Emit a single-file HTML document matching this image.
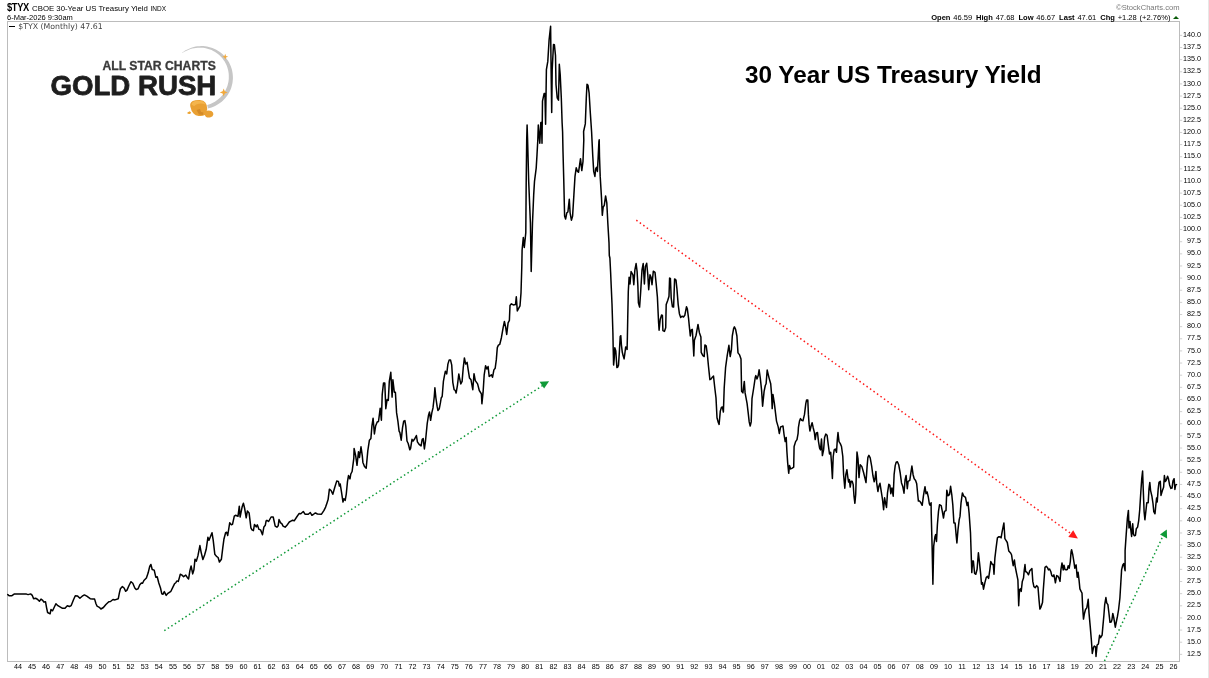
<!DOCTYPE html>
<html><head><meta charset="utf-8"><title>30 Year US Treasury Yield</title>
<style>
html,body{margin:0;padding:0;background:#fff;}
body{width:1209px;height:678px;overflow:hidden;position:relative;-webkit-font-smoothing:antialiased;font-family:"Liberation Sans",sans-serif;}
svg{position:absolute;left:0;top:0;}
#wrap{position:absolute;left:0;top:0;width:1209px;height:678px;will-change:transform;}
.ax text{font-family:"Liberation Sans",sans-serif;font-size:7.2px;fill:#000;}
.hd{position:absolute;white-space:nowrap;color:#000;line-height:1;}
</style></head><body><div id="wrap">
<svg width="1209" height="678" viewBox="0 0 1209 678">
<rect x="1208" y="0" width="1" height="678" fill="#e7e7e6"/>
<rect x="7.5" y="21.5" width="1172.0" height="640.0" fill="#fff" stroke="#bcbcbc" stroke-width="1"/>
<path d="M1180,35.36h2.2 M1180,47.50h2.2 M1180,59.63h2.2 M1180,71.77h2.2 M1180,83.91h2.2 M1180,96.05h2.2 M1180,108.18h2.2 M1180,120.32h2.2 M1180,132.46h2.2 M1180,144.59h2.2 M1180,156.73h2.2 M1180,168.87h2.2 M1180,181.00h2.2 M1180,193.14h2.2 M1180,205.28h2.2 M1180,217.42h2.2 M1180,229.55h2.2 M1180,241.69h2.2 M1180,253.83h2.2 M1180,265.96h2.2 M1180,278.10h2.2 M1180,290.24h2.2 M1180,302.37h2.2 M1180,314.51h2.2 M1180,326.65h2.2 M1180,338.79h2.2 M1180,350.92h2.2 M1180,363.06h2.2 M1180,375.20h2.2 M1180,387.33h2.2 M1180,399.47h2.2 M1180,411.61h2.2 M1180,423.74h2.2 M1180,435.88h2.2 M1180,448.02h2.2 M1180,460.16h2.2 M1180,472.29h2.2 M1180,484.43h2.2 M1180,496.57h2.2 M1180,508.70h2.2 M1180,520.84h2.2 M1180,532.98h2.2 M1180,545.11h2.2 M1180,557.25h2.2 M1180,569.39h2.2 M1180,581.52h2.2 M1180,593.66h2.2 M1180,605.80h2.2 M1180,617.94h2.2 M1180,630.07h2.2 M1180,642.21h2.2 M1180,654.35h2.2" stroke="#cfcfcf" stroke-width="1" fill="none"/>
<g class="ax"><text x="1201" y="37.00" text-anchor="end">140.0</text><text x="1201" y="49.14" text-anchor="end">137.5</text><text x="1201" y="61.27" text-anchor="end">135.0</text><text x="1201" y="73.41" text-anchor="end">132.5</text><text x="1201" y="85.55" text-anchor="end">130.0</text><text x="1201" y="97.69" text-anchor="end">127.5</text><text x="1201" y="109.82" text-anchor="end">125.0</text><text x="1201" y="121.96" text-anchor="end">122.5</text><text x="1201" y="134.10" text-anchor="end">120.0</text><text x="1201" y="146.23" text-anchor="end">117.5</text><text x="1201" y="158.37" text-anchor="end">115.0</text><text x="1201" y="170.51" text-anchor="end">112.5</text><text x="1201" y="182.64" text-anchor="end">110.0</text><text x="1201" y="194.78" text-anchor="end">107.5</text><text x="1201" y="206.92" text-anchor="end">105.0</text><text x="1201" y="219.06" text-anchor="end">102.5</text><text x="1201" y="231.19" text-anchor="end">100.0</text><text x="1201" y="243.33" text-anchor="end">97.5</text><text x="1201" y="255.47" text-anchor="end">95.0</text><text x="1201" y="267.60" text-anchor="end">92.5</text><text x="1201" y="279.74" text-anchor="end">90.0</text><text x="1201" y="291.88" text-anchor="end">87.5</text><text x="1201" y="304.01" text-anchor="end">85.0</text><text x="1201" y="316.15" text-anchor="end">82.5</text><text x="1201" y="328.29" text-anchor="end">80.0</text><text x="1201" y="340.43" text-anchor="end">77.5</text><text x="1201" y="352.56" text-anchor="end">75.0</text><text x="1201" y="364.70" text-anchor="end">72.5</text><text x="1201" y="376.84" text-anchor="end">70.0</text><text x="1201" y="388.97" text-anchor="end">67.5</text><text x="1201" y="401.11" text-anchor="end">65.0</text><text x="1201" y="413.25" text-anchor="end">62.5</text><text x="1201" y="425.38" text-anchor="end">60.0</text><text x="1201" y="437.52" text-anchor="end">57.5</text><text x="1201" y="449.66" text-anchor="end">55.0</text><text x="1201" y="461.80" text-anchor="end">52.5</text><text x="1201" y="473.93" text-anchor="end">50.0</text><text x="1201" y="486.07" text-anchor="end">47.5</text><text x="1201" y="498.21" text-anchor="end">45.0</text><text x="1201" y="510.34" text-anchor="end">42.5</text><text x="1201" y="522.48" text-anchor="end">40.0</text><text x="1201" y="534.62" text-anchor="end">37.5</text><text x="1201" y="546.75" text-anchor="end">35.0</text><text x="1201" y="558.89" text-anchor="end">32.5</text><text x="1201" y="571.03" text-anchor="end">30.0</text><text x="1201" y="583.16" text-anchor="end">27.5</text><text x="1201" y="595.30" text-anchor="end">25.0</text><text x="1201" y="607.44" text-anchor="end">22.5</text><text x="1201" y="619.58" text-anchor="end">20.0</text><text x="1201" y="631.71" text-anchor="end">17.5</text><text x="1201" y="643.85" text-anchor="end">15.0</text><text x="1201" y="655.99" text-anchor="end">12.5</text></g>
<g class="ax"><text x="17.9" y="668.9" text-anchor="middle">44</text><text x="32.0" y="668.9" text-anchor="middle">45</text><text x="46.1" y="668.9" text-anchor="middle">46</text><text x="60.2" y="668.9" text-anchor="middle">47</text><text x="74.3" y="668.9" text-anchor="middle">48</text><text x="88.4" y="668.9" text-anchor="middle">49</text><text x="102.5" y="668.9" text-anchor="middle">50</text><text x="116.5" y="668.9" text-anchor="middle">51</text><text x="130.6" y="668.9" text-anchor="middle">52</text><text x="144.7" y="668.9" text-anchor="middle">53</text><text x="158.8" y="668.9" text-anchor="middle">54</text><text x="172.9" y="668.9" text-anchor="middle">55</text><text x="187.0" y="668.9" text-anchor="middle">56</text><text x="201.1" y="668.9" text-anchor="middle">57</text><text x="215.2" y="668.9" text-anchor="middle">58</text><text x="229.3" y="668.9" text-anchor="middle">59</text><text x="243.4" y="668.9" text-anchor="middle">60</text><text x="257.5" y="668.9" text-anchor="middle">61</text><text x="271.6" y="668.9" text-anchor="middle">62</text><text x="285.6" y="668.9" text-anchor="middle">63</text><text x="299.7" y="668.9" text-anchor="middle">64</text><text x="313.8" y="668.9" text-anchor="middle">65</text><text x="327.9" y="668.9" text-anchor="middle">66</text><text x="342.0" y="668.9" text-anchor="middle">67</text><text x="356.1" y="668.9" text-anchor="middle">68</text><text x="370.2" y="668.9" text-anchor="middle">69</text><text x="384.3" y="668.9" text-anchor="middle">70</text><text x="398.4" y="668.9" text-anchor="middle">71</text><text x="412.5" y="668.9" text-anchor="middle">72</text><text x="426.6" y="668.9" text-anchor="middle">73</text><text x="440.7" y="668.9" text-anchor="middle">74</text><text x="454.8" y="668.9" text-anchor="middle">75</text><text x="468.8" y="668.9" text-anchor="middle">76</text><text x="482.9" y="668.9" text-anchor="middle">77</text><text x="497.0" y="668.9" text-anchor="middle">78</text><text x="511.1" y="668.9" text-anchor="middle">79</text><text x="525.2" y="668.9" text-anchor="middle">80</text><text x="539.3" y="668.9" text-anchor="middle">81</text><text x="553.4" y="668.9" text-anchor="middle">82</text><text x="567.5" y="668.9" text-anchor="middle">83</text><text x="581.6" y="668.9" text-anchor="middle">84</text><text x="595.7" y="668.9" text-anchor="middle">85</text><text x="609.8" y="668.9" text-anchor="middle">86</text><text x="623.9" y="668.9" text-anchor="middle">87</text><text x="637.9" y="668.9" text-anchor="middle">88</text><text x="652.0" y="668.9" text-anchor="middle">89</text><text x="666.1" y="668.9" text-anchor="middle">90</text><text x="680.2" y="668.9" text-anchor="middle">91</text><text x="694.3" y="668.9" text-anchor="middle">92</text><text x="708.4" y="668.9" text-anchor="middle">93</text><text x="722.5" y="668.9" text-anchor="middle">94</text><text x="736.6" y="668.9" text-anchor="middle">95</text><text x="750.7" y="668.9" text-anchor="middle">96</text><text x="764.8" y="668.9" text-anchor="middle">97</text><text x="778.9" y="668.9" text-anchor="middle">98</text><text x="793.0" y="668.9" text-anchor="middle">99</text><text x="807.1" y="668.9" text-anchor="middle">00</text><text x="821.1" y="668.9" text-anchor="middle">01</text><text x="835.2" y="668.9" text-anchor="middle">02</text><text x="849.3" y="668.9" text-anchor="middle">03</text><text x="863.4" y="668.9" text-anchor="middle">04</text><text x="877.5" y="668.9" text-anchor="middle">05</text><text x="891.6" y="668.9" text-anchor="middle">06</text><text x="905.7" y="668.9" text-anchor="middle">07</text><text x="919.8" y="668.9" text-anchor="middle">08</text><text x="933.9" y="668.9" text-anchor="middle">09</text><text x="948.0" y="668.9" text-anchor="middle">10</text><text x="962.1" y="668.9" text-anchor="middle">11</text><text x="976.2" y="668.9" text-anchor="middle">12</text><text x="990.2" y="668.9" text-anchor="middle">13</text><text x="1004.3" y="668.9" text-anchor="middle">14</text><text x="1018.4" y="668.9" text-anchor="middle">15</text><text x="1032.5" y="668.9" text-anchor="middle">16</text><text x="1046.6" y="668.9" text-anchor="middle">17</text><text x="1060.7" y="668.9" text-anchor="middle">18</text><text x="1074.8" y="668.9" text-anchor="middle">19</text><text x="1088.9" y="668.9" text-anchor="middle">20</text><text x="1103.0" y="668.9" text-anchor="middle">21</text><text x="1117.1" y="668.9" text-anchor="middle">22</text><text x="1131.2" y="668.9" text-anchor="middle">23</text><text x="1145.3" y="668.9" text-anchor="middle">24</text><text x="1159.4" y="668.9" text-anchor="middle">25</text><text x="1173.4" y="668.9" text-anchor="middle">26</text></g>
<!-- annotations -->
<g fill="none" stroke-width="1.5" stroke-linecap="butt">
<path d="M164.3,630.7 L543,385.3" stroke="#0f9a38" stroke-dasharray="1.5 2.7"/>
<path d="M636.3,220.2 L1071.5,534.0" stroke="#ff1a1a" stroke-dasharray="1.5 2.8"/>
<path d="M1104.5,661 L1162.5,537" stroke="#0f9a38" stroke-dasharray="1.5 2.7"/>
</g>
<path d="M549.1,381.3 L539.6,381.7 L544.1,388.5Z" fill="#0f9a38"/>
<path d="M1077.9,538.4 L1073.2,530.3 L1068.3,537.1Z" fill="#ff1a1a"/>
<path d="M1166.8,529.5 L1160,534.4 L1167.1,538.4Z" fill="#0f9a38"/>
<!-- data line -->
<path d="M7.8,594.6 L9.1,595.8 L11.6,595.8 L14.1,594.1 L26.5,594.1 L28.1,594.6 L30.6,593.9 L32.3,595.4 L33.6,598.7 L35.6,598.2 L37.7,599.5 L39.4,601.2 L41.0,599.1 L42.7,600.4 L43.8,602.0 L45.5,601.7 L46.6,607.8 L47.6,612.5 L50.1,613.8 L51.0,609.5 L52.6,610.8 L55.9,603.7 L57.9,605.7 L62.5,608.3 L65.0,608.2 L67.3,605.8 L69.5,606.5 L71.1,605.7 L73.6,599.5 L75.3,595.8 L77.4,595.9 L79.9,598.2 L82.2,596.2 L84.4,594.9 L86.8,596.2 L90.2,598.7 L92.6,599.1 L94.6,599.1 L96.0,603.7 L97.1,606.2 L99.3,607.3 L100.9,609.0 L103.4,607.5 L105.9,604.5 L108.8,601.7 L110.5,601.5 L113.0,599.5 L115.0,599.9 L118.3,598.7 L119.4,592.9 L120.4,588.8 L122.4,586.6 L124.1,588.0 L125.7,591.3 L127.0,590.1 L129.0,585.5 L131.0,581.7 L132.8,583.3 L134.8,588.0 L136.2,589.6 L138.1,588.8 L139.8,584.7 L141.4,583.0 L142.6,583.3 L143.9,580.5 L146.4,578.0 L148.1,573.1 L149.7,566.5 L150.9,564.5 L152.2,569.5 L154.2,570.1 L155.8,577.2 L157.2,576.7 L158.8,583.0 L160.5,588.0 L161.8,593.8 L162.9,594.3 L164.3,591.6 L166.2,595.4 L167.9,593.3 L170.9,591.3 L172.9,587.1 L174.5,583.8 L175.8,582.7 L177.0,580.9 L178.3,581.4 L179.5,577.2 L180.3,574.2 L182.0,575.1 L183.6,576.7 L185.8,575.1 L187.4,577.7 L188.6,578.9 L189.9,570.6 L191.1,566.0 L192.7,573.9 L193.9,569.8 L195.0,559.2 L196.3,561.2 L197.9,555.9 L199.9,545.6 L201.2,552.6 L202.9,559.5 L204.6,555.0 L206.2,549.3 L207.9,537.3 L209.0,540.2 L210.7,536.0 L212.0,532.7 L213.2,540.2 L214.8,554.2 L216.5,556.4 L218.1,557.5 L219.4,562.0 L221.4,559.2 L222.8,547.6 L223.9,539.3 L225.6,532.7 L226.7,532.2 L227.7,535.5 L229.7,522.8 L231.4,524.8 L232.5,524.4 L234.3,516.2 L235.5,515.3 L238.0,516.2 L239.3,506.2 L240.1,517.0 L242.1,507.1 L243.4,503.3 L244.6,508.2 L246.2,517.8 L247.4,510.9 L249.1,512.9 L250.9,527.8 L252.0,529.9 L253.4,530.6 L254.5,524.4 L256.2,526.9 L257.3,524.8 L259.0,529.4 L260.6,529.9 L262.5,534.7 L263.9,526.9 L265.3,525.3 L266.1,520.8 L266.9,520.3 L268.6,521.5 L271.1,517.0 L273.2,517.0 L275.2,526.1 L276.9,527.2 L278.2,525.8 L279.0,519.5 L280.6,522.8 L281.8,523.6 L283.1,526.1 L285.1,527.2 L287.6,524.4 L289.3,522.0 L290.9,521.1 L292.6,520.3 L294.2,520.8 L296.7,517.0 L299.2,513.4 L300.8,513.7 L303.3,511.5 L305.0,514.2 L308.3,514.2 L310.3,512.5 L311.9,515.3 L313.2,514.5 L315.4,512.9 L317.4,514.0 L321.5,514.2 L324.0,510.4 L325.6,507.1 L327.0,502.9 L328.1,499.6 L329.4,489.2 L331.1,490.5 L332.8,494.3 L334.8,487.2 L336.7,481.1 L338.4,481.4 L339.4,486.1 L340.2,483.9 L341.4,491.4 L343.0,502.1 L343.9,498.8 L345.2,500.4 L346.3,493.8 L347.5,481.4 L348.5,475.6 L350.0,478.9 L350.8,474.0 L352.1,471.5 L353.8,458.3 L354.1,448.4 L355.7,455.9 L357.0,465.3 L358.5,451.7 L359.5,457.5 L361.0,446.8 L362.3,455.9 L362.9,462.4 L364.5,466.5 L366.2,468.2 L367.8,450.9 L369.4,440.2 L370.9,438.5 L371.9,426.1 L373.1,418.2 L374.4,434.0 L375.6,426.1 L377.2,422.0 L378.5,421.5 L380.2,408.2 L381.4,420.3 L382.2,394.7 L383.5,383.1 L384.8,383.1 L385.8,408.7 L387.1,399.6 L388.3,400.4 L389.3,381.4 L390.8,372.3 L392.1,397.1 L392.9,379.8 L394.3,392.2 L395.4,392.2 L396.6,412.9 L397.9,421.1 L399.1,431.1 L399.9,432.7 L401.2,440.2 L402.5,427.8 L403.7,421.1 L404.9,420.6 L405.8,426.1 L407.0,441.0 L408.2,443.5 L409.8,449.8 L410.6,448.4 L412.0,439.3 L413.1,441.0 L414.4,439.3 L416.4,435.5 L417.4,441.8 L419.1,444.3 L421.1,445.9 L422.2,439.3 L423.2,438.5 L424.4,448.9 L425.5,441.0 L427.2,423.6 L428.5,415.3 L429.5,412.0 L430.6,420.3 L431.8,412.9 L433.0,407.9 L434.3,396.3 L434.9,387.7 L435.9,398.0 L437.1,406.2 L437.9,410.4 L439.3,408.7 L440.4,402.9 L441.2,398.0 L442.2,396.3 L443.4,381.4 L444.6,374.8 L445.4,371.2 L446.7,374.0 L447.9,364.1 L449.2,359.9 L450.5,359.9 L451.7,364.9 L452.8,382.3 L454.1,389.7 L455.3,390.5 L456.1,393.0 L457.4,385.6 L458.8,374.0 L459.4,377.3 L460.8,383.9 L462.1,381.4 L463.2,368.2 L464.4,357.9 L465.7,364.1 L467.1,362.4 L468.2,369.9 L469.5,378.1 L471.0,379.8 L472.8,389.7 L474.0,373.7 L475.3,380.6 L477.6,383.9 L479.3,390.5 L481.4,393.8 L481.9,403.8 L483.1,392.2 L484.2,374.8 L485.6,365.7 L486.9,369.0 L488.1,366.5 L489.2,376.5 L491.4,374.8 L492.5,377.3 L493.9,369.9 L495.2,368.2 L496.3,359.9 L497.3,347.6 L498.4,345.1 L499.8,344.3 L501.4,337.7 L503.1,327.8 L504.4,321.5 L505.6,326.9 L506.7,334.4 L508.1,322.8 L509.4,320.3 L510.0,305.4 L511.4,303.8 L513.3,304.9 L515.5,304.6 L516.3,296.8 L517.3,310.9 L518.5,308.7 L520.0,305.8 L521.0,293.0 L521.8,266.5 L522.1,250.0 L523.3,237.6 L524.3,247.5 L525.8,232.6 L526.2,181.4 L526.7,140.0 L527.1,125.0 L527.6,140.0 L528.7,181.4 L530.4,222.7 L531.2,271.5 L532.5,222.7 L533.7,194.6 L534.5,181.4 L536.2,168.1 L537.0,154.9 L537.8,140.0 L538.3,125.0 L539.8,143.3 L540.8,122.6 L541.5,122.6 L542.0,143.3 L542.5,101.1 L544.1,93.6 L544.9,93.6 L545.6,124.2 L546.4,69.6 L547.8,61.4 L549.1,39.9 L550.6,26.3 L551.1,69.6 L551.7,112.6 L552.2,69.6 L553.5,44.5 L554.4,44.8 L555.5,55.6 L556.0,84.5 L557.2,97.8 L558.5,100.2 L559.3,64.3 L560.2,74.6 L561.3,97.8 L562.1,122.6 L562.6,132.0 L563.0,151.6 L563.8,181.4 L564.6,216.1 L565.6,219.1 L566.8,212.8 L567.9,212.0 L569.3,199.2 L570.1,212.8 L571.4,220.2 L572.6,216.1 L573.9,194.6 L575.0,176.4 L576.2,167.8 L577.5,171.4 L578.5,172.3 L579.5,165.6 L580.5,158.7 L581.8,170.6 L583.0,161.5 L583.8,140.0 L583.6,131.5 L585.3,123.9 L586.3,97.8 L587.0,84.2 L588.0,85.3 L589.1,92.8 L590.3,112.6 L591.6,132.0 L592.8,156.5 L593.7,171.4 L594.9,176.4 L595.7,168.9 L596.5,167.3 L597.4,171.4 L598.2,156.5 L598.9,141.7 L599.2,139.8 L599.5,156.5 L600.2,176.4 L601.5,197.9 L602.3,215.3 L603.2,207.0 L604.3,205.3 L605.6,195.9 L606.8,202.9 L607.8,222.7 L609.0,242.6 L609.3,255.5 L609.9,258.0 L610.6,272.0 L611.3,288.0 L612.0,304.0 L612.5,320.0 L612.9,332.4 L613.2,348.9 L613.6,365.1 L614.2,358.9 L614.8,347.7 L615.8,351.0 L616.5,361.4 L616.9,367.6 L617.7,367.1 L618.5,365.1 L619.4,351.4 L620.2,336.5 L620.8,335.7 L621.4,344.8 L622.3,352.3 L623.1,355.6 L624.1,358.9 L624.9,353.1 L625.7,346.9 L626.4,347.3 L627.1,349.4 L627.4,336.5 L627.7,320.0 L628.3,291.4 L629.1,277.3 L630.0,283.9 L631.1,271.5 L632.9,274.8 L633.8,284.7 L634.9,269.9 L636.1,263.6 L637.1,271.5 L637.9,286.4 L638.4,302.9 L639.6,307.1 L640.7,291.4 L642.0,269.9 L643.2,263.6 L644.4,283.9 L645.4,266.5 L646.7,263.2 L647.8,274.8 L648.7,289.7 L650.0,274.8 L651.1,277.3 L652.0,284.7 L653.3,271.2 L655.0,272.3 L656.1,283.1 L657.4,297.1 L658.6,322.8 L659.1,330.2 L660.2,319.5 L661.6,314.9 L662.4,315.3 L662.9,330.6 L664.4,331.4 L665.7,327.8 L666.2,304.6 L667.7,300.4 L669.0,296.3 L669.6,278.1 L670.4,278.4 L671.2,298.0 L672.4,306.7 L673.6,307.1 L674.6,278.9 L676.0,280.1 L677.0,289.7 L678.2,304.6 L679.4,313.7 L680.7,317.5 L682.0,316.2 L683.5,317.0 L684.8,315.3 L686.5,306.7 L687.3,308.7 L688.5,317.8 L689.3,326.1 L690.3,336.0 L691.1,330.2 L692.3,329.4 L693.1,342.6 L693.8,355.9 L694.4,340.2 L696.1,335.2 L698.0,324.4 L699.4,332.7 L700.9,336.9 L701.2,352.4 L702.9,355.7 L704.2,356.5 L704.9,345.0 L706.2,345.8 L707.4,354.9 L708.5,366.5 L709.9,379.7 L711.2,378.9 L712.3,377.2 L713.5,376.1 L714.8,388.0 L716.0,397.9 L717.0,417.8 L718.1,421.9 L719.1,424.4 L720.3,411.1 L721.4,407.5 L722.4,407.0 L723.4,412.0 L724.2,388.0 L725.6,367.3 L727.2,355.7 L728.9,345.3 L730.2,356.5 L731.4,349.9 L732.3,336.0 L733.6,328.6 L734.4,326.9 L735.6,329.4 L736.9,336.0 L738.0,352.9 L739.6,354.9 L741.0,359.0 L741.6,391.3 L742.9,392.9 L744.3,381.4 L745.1,392.9 L747.1,403.7 L748.2,412.8 L749.2,421.9 L750.2,426.0 L751.2,421.9 L752.0,398.7 L753.7,388.0 L755.3,377.2 L755.8,375.6 L757.0,378.9 L758.2,375.6 L759.1,369.8 L760.3,378.1 L761.6,390.4 L762.6,406.2 L764.1,391.3 L765.3,385.5 L766.1,383.8 L767.2,370.1 L769.1,378.1 L770.7,383.8 L771.6,394.6 L772.2,408.6 L773.0,394.6 L774.4,403.7 L775.5,412.8 L776.5,421.1 L778.2,426.9 L779.3,433.5 L780.6,426.9 L781.8,426.5 L783.0,426.0 L784.1,435.0 L785.2,441.6 L786.2,437.4 L786.9,451.5 L787.7,463.1 L788.7,473.3 L789.5,465.6 L790.7,468.9 L792.3,468.1 L793.7,467.2 L794.1,446.5 L795.6,441.6 L797.0,439.6 L798.1,433.3 L798.4,427.7 L799.5,421.1 L800.5,418.6 L801.7,420.2 L803.0,420.7 L804.5,414.4 L805.8,403.7 L806.6,399.9 L807.8,399.9 L808.4,414.4 L809.1,424.4 L809.9,431.0 L811.3,425.2 L812.1,422.7 L813.2,427.7 L814.4,432.6 L815.2,439.6 L816.3,433.0 L817.5,432.5 L818.5,441.6 L819.6,448.2 L820.5,449.9 L821.5,439.1 L822.4,455.6 L823.6,449.9 L824.6,437.4 L825.8,434.1 L827.1,435.3 L828.2,444.1 L829.5,454.0 L830.7,452.3 L831.5,463.1 L832.4,478.5 L833.2,456.5 L834.2,449.9 L835.3,449.0 L836.5,452.3 L837.3,439.9 L838.0,432.5 L839.0,441.6 L840.3,443.6 L841.5,446.5 L842.8,456.5 L843.6,474.7 L844.8,488.2 L845.8,474.7 L846.9,469.7 L847.8,477.1 L848.6,482.1 L849.4,479.6 L850.2,487.1 L851.1,481.3 L852.2,481.3 L853.2,484.6 L854.0,496.2 L854.9,503.3 L855.7,494.5 L856.4,471.4 L857.0,452.0 L858.0,458.9 L859.0,477.6 L860.2,464.7 L861.8,466.4 L863.5,472.2 L865.1,478.8 L866.0,482.6 L867.1,466.4 L867.9,457.3 L868.9,455.3 L870.2,457.8 L871.7,466.4 L872.9,475.5 L874.2,481.8 L875.0,478.8 L875.9,471.4 L876.7,482.9 L877.9,491.5 L878.9,486.2 L880.0,483.3 L881.2,491.2 L882.5,499.5 L883.6,509.7 L884.6,497.8 L885.5,502.8 L886.5,507.4 L887.5,492.9 L888.8,484.3 L889.9,485.4 L890.8,493.7 L891.9,487.9 L893.2,496.2 L894.1,474.7 L895.2,465.6 L896.2,462.3 L897.4,461.8 L898.7,464.7 L900.2,473.0 L901.5,482.9 L902.7,486.2 L904.0,493.2 L905.1,479.6 L906.1,475.5 L907.3,488.7 L908.1,481.3 L909.8,480.4 L911.1,471.4 L911.9,466.1 L913.1,474.7 L914.2,478.8 L915.6,480.4 L916.7,483.8 L917.7,494.5 L918.4,501.1 L919.7,501.1 L920.9,502.8 L922.2,505.3 L923.4,496.2 L924.2,491.2 L925.0,486.7 L926.0,493.7 L927.1,492.0 L928.3,497.0 L929.3,503.6 L930.0,505.3 L931.1,502.8 L931.2,513.1 L932.1,546.2 L932.9,584.2 L933.7,546.2 L934.9,537.1 L935.7,534.6 L936.5,541.5 L937.4,524.7 L938.5,511.4 L939.5,504.8 L941.2,505.6 L942.3,511.4 L943.5,518.0 L944.5,511.4 L946.0,510.6 L946.8,490.3 L948.1,495.7 L949.5,494.6 L950.6,486.3 L951.8,494.9 L952.8,504.8 L953.9,523.0 L955.1,523.0 L956.1,534.6 L956.9,542.9 L958.0,529.6 L959.2,519.7 L960.0,516.4 L961.0,503.2 L962.4,492.9 L963.8,496.2 L965.5,497.4 L967.1,505.6 L968.0,502.3 L969.1,513.1 L970.5,532.9 L971.3,557.8 L971.8,572.6 L972.6,561.1 L973.4,561.1 L974.6,573.5 L975.8,574.3 L977.1,569.3 L978.4,552.8 L979.5,562.7 L980.7,574.3 L981.5,584.2 L982.5,582.6 L983.5,589.2 L984.9,582.6 L986.2,577.6 L987.5,576.3 L988.6,578.4 L989.8,570.2 L990.8,561.6 L992.3,564.4 L993.3,564.4 L994.0,574.3 L994.9,557.8 L996.1,547.8 L997.4,537.9 L998.9,536.7 L1000.6,537.1 L1001.1,537.9 L1002.2,531.3 L1003.9,523.0 L1004.9,538.7 L1006.0,540.4 L1007.3,542.5 L1008.8,551.1 L1010.8,553.3 L1011.6,555.0 L1012.4,560.8 L1013.2,565.7 L1014.4,559.9 L1015.2,566.5 L1016.5,573.2 L1017.9,579.8 L1018.7,605.8 L1019.5,589.7 L1020.4,588.9 L1021.2,591.4 L1022.3,581.4 L1023.5,578.1 L1024.3,569.9 L1025.0,564.6 L1025.6,571.5 L1027.0,572.3 L1028.5,574.8 L1029.8,570.7 L1031.9,568.5 L1032.8,581.4 L1033.9,586.7 L1035.2,587.7 L1036.7,585.6 L1038.0,587.2 L1039.0,599.6 L1039.9,609.1 L1041.0,607.1 L1042.5,602.6 L1043.3,589.7 L1044.3,576.5 L1045.0,567.4 L1046.3,566.2 L1047.6,567.9 L1048.5,569.9 L1049.6,569.0 L1050.8,571.5 L1051.8,575.6 L1052.9,576.5 L1053.9,574.8 L1054.6,578.1 L1055.4,582.8 L1056.7,575.6 L1057.9,576.1 L1059.1,578.5 L1060.0,581.4 L1060.9,569.9 L1062.0,562.9 L1063.2,569.9 L1064.0,565.2 L1065.0,569.5 L1066.2,569.9 L1067.3,569.5 L1068.2,565.7 L1069.2,568.2 L1070.3,561.6 L1071.1,551.6 L1071.6,549.7 L1072.8,555.0 L1074.0,562.4 L1074.8,568.2 L1076.1,564.9 L1077.2,577.3 L1078.1,572.3 L1079.1,580.6 L1079.9,588.9 L1081.1,591.4 L1082.0,593.0 L1082.7,607.9 L1083.5,619.1 L1084.4,613.7 L1085.5,609.5 L1086.8,607.9 L1087.7,602.6 L1088.2,599.3 L1089.0,612.9 L1090.2,626.1 L1091.3,639.3 L1092.3,653.4 L1093.5,647.6 L1094.3,646.0 L1095.5,646.8 L1096.0,656.4 L1097.1,645.1 L1098.4,644.0 L1099.6,635.2 L1100.6,637.7 L1102.1,635.2 L1102.9,626.1 L1103.9,615.3 L1104.7,604.6 L1105.9,597.5 L1106.7,602.9 L1107.9,604.6 L1108.8,612.0 L1110.0,622.3 L1111.2,622.0 L1112.0,619.5 L1112.8,613.4 L1113.8,617.8 L1115.3,627.2 L1116.3,622.0 L1117.5,616.2 L1118.6,609.5 L1119.9,598.0 L1120.8,583.1 L1121.6,569.9 L1122.8,564.9 L1123.7,563.6 L1125.1,570.7 L1125.1,550.6 L1126.2,534.4 L1127.4,518.1 L1128.4,510.4 L1129.0,527.9 L1130.0,521.4 L1130.6,527.9 L1131.6,536.5 L1132.7,523.8 L1133.5,534.4 L1134.4,535.7 L1135.5,535.2 L1136.3,528.7 L1137.6,527.1 L1138.7,520.6 L1139.7,510.0 L1140.8,492.2 L1141.7,479.2 L1142.6,471.1 L1143.3,490.6 L1144.1,511.6 L1144.9,519.8 L1146.0,510.0 L1146.8,502.7 L1148.2,502.7 L1149.0,488.9 L1149.8,482.4 L1150.6,490.6 L1151.9,496.2 L1153.0,503.5 L1153.8,511.6 L1155.0,513.8 L1155.8,505.2 L1156.6,497.9 L1157.2,501.9 L1158.2,488.9 L1159.0,482.4 L1160.3,481.3 L1161.0,495.4 L1162.4,490.6 L1163.6,487.3 L1164.4,475.6 L1165.3,481.6 L1166.3,480.0 L1167.6,476.3 L1168.4,478.4 L1169.6,484.9 L1170.9,488.4 L1172.0,488.1 L1173.0,480.8 L1174.1,478.7 L1174.9,489.4 L1175.7,484.9 L1176.5,484.6" fill="none" stroke="#000" stroke-width="1.5" stroke-linejoin="round" stroke-linecap="round"/>
<!-- logo -->
<g id="logo">
<path d="M182.0,52.8 L183.5,51.7 L185.1,50.6 L186.8,49.7 L188.5,48.9 L190.2,48.2 L192.0,47.5 L193.8,47.0 L195.6,46.6 L197.5,46.3 L199.4,46.2 L201.3,46.1 L203.2,46.1 L205.0,46.3 L206.9,46.6 L208.8,47.0 L210.6,47.5 L212.4,48.1 L214.1,48.8 L215.8,49.6 L217.5,50.5 L219.1,51.5 L220.6,52.6 L222.1,53.8 L223.4,55.1 L224.7,56.5 L226.0,57.9 L227.1,59.4 L228.2,61.0 L229.1,62.6 L229.9,64.3 L230.7,66.0 L231.3,67.8 L231.9,69.6 L232.3,71.4 L232.6,73.3 L232.8,75.2 L232.9,77.1 L232.9,79.0 L232.7,80.8 L232.5,82.7 L232.1,84.6 L231.6,86.4 L231.1,88.2 L230.4,89.9 L229.6,91.7 L228.7,93.3 L227.7,94.9 L226.6,96.5 L225.4,97.9 L224.2,99.3 L222.8,100.7 L221.4,101.9 L219.9,103.1 L218.4,104.1 L216.8,105.1 L215.1,106.0 L213.4,106.7 L211.6,107.4 L209.8,108.0 L207.9,108.4 L207.2,105.0 L208.8,104.5 L210.4,104.0 L211.9,103.3 L213.4,102.6 L214.9,101.7 L216.2,100.8 L217.6,99.8 L218.8,98.8 L220.0,97.7 L221.2,96.5 L222.3,95.2 L223.3,93.9 L224.2,92.6 L225.0,91.2 L225.8,89.7 L226.4,88.3 L227.1,86.8 L227.6,85.2 L228.0,83.6 L228.4,82.0 L228.6,80.4 L228.8,78.8 L228.8,77.1 L228.8,75.5 L228.7,73.8 L228.5,72.2 L228.2,70.6 L227.8,68.9 L227.3,67.3 L226.8,65.8 L226.1,64.2 L225.3,62.7 L224.5,61.3 L223.5,59.9 L222.5,58.5 L221.4,57.2 L220.2,56.0 L218.9,54.8 L217.6,53.7 L216.2,52.7 L214.7,51.7 L213.2,50.9 L211.6,50.1 L210.0,49.5 L208.3,48.9 L206.6,48.5 L204.8,48.1 L203.1,47.8 L201.3,47.7 L199.5,47.7 L197.7,47.7 L195.9,47.9 L194.1,48.2 L192.3,48.6 L190.5,49.1 L188.8,49.7 L187.1,50.4 L185.4,51.2 L183.8,52.1 L182.3,53.1Z" fill="#c6c6c6"/>
<path d="M225.2,53.7 L226.0,55.9 L228.2,56.7 L226.0,57.5 L225.2,59.7 L224.4,57.5 L222.2,56.7 L224.4,55.9Z" fill="#f2a93b"/>
<path d="M223.7,88.4 L224.8,91.3 L227.7,92.4 L224.8,93.5 L223.7,96.4 L222.6,93.5 L219.7,92.4 L222.6,91.3Z" fill="#f2a93b"/>
<path d="M190.300,106.500 q-0.800,-4 2.500,-5.500 q3,-1.300 7,-1 q4,0.300 5.500,2.500 q1.800,2.300 1.800,5.500 q0.500,1.500 -0.500,2.800 q2.500,-0.800 4.800,0.200 q2.200,1.200 2,3.200 q-0.300,2.300 -2.800,3 q-2.500,0.800 -4.500,-0.300 q-1,-0.800 -1.200,-1.800 q-2.800,1.300 -6.300,0.800 q-3.200,-0.500 -4.800,-2.200 q-2.700,-2.500 -3.500,-7.200z" fill="#e9a033"/>
<path d="M191.500,104.500 q0.500,-2.800 3.500,-3.500 q4,-0.800 7.500,0.300 q2.300,1 2.800,3.200 q-3,-1.300 -6.500,-0.800 q-3,0.500 -4.500,2.200 q-1.500,0 -2.800,-1.400z" fill="#f4b54d"/>
<path d="M196.500,110 l3.500,-1 1,3 2.500,0.500 -0.500,2.500 -4,-0.500z" fill="#d48a26"/>
<path d="M187.400,112.600 l2.400,-1.400 1.400,1.600 -1.200,1.100 -2.400,-0.200z" fill="#eda32f"/>
<text x="215.800" y="69.900" text-anchor="end" font-family="Liberation Sans, sans-serif" font-weight="700" font-size="12.200" fill="#3a3a3a" stroke="#3a3a3a" stroke-width="0.300" textLength="113.300" lengthAdjust="spacingAndGlyphs">ALL STAR CHARTS</text>
<text x="50.400" y="94.700" font-family="Liberation Sans, sans-serif" font-weight="700" font-size="27.600" fill="#1e1e1e" stroke="#1e1e1e" stroke-width="0.800" stroke-linejoin="round" textLength="165.900" lengthAdjust="spacingAndGlyphs">GOLD RUSH</text>
</g>
<!-- title -->
<text x="745" y="82.800" font-family="Liberation Sans, sans-serif" font-weight="700" font-size="24" fill="#000" textLength="296.700" lengthAdjust="spacingAndGlyphs">30 Year US Treasury Yield</text>
</svg>
<div class="hd" style="left:7.300px;top:1.700px;font-size:9px;"><b style="font-size:10.600px;letter-spacing:-0.400px;display:inline-block;transform:scaleX(0.880);transform-origin:0 0;width:20.600px;">$TYX</b><span style="font-size:7.800px;margin-left:4.200px;">CBOE 30-Year US Treasury Yield</span><span style="font-size:6.500px;margin-left:2.600px;">INDX</span></div>
<div class="hd" style="left:7px;top:13.500px;font-size:7.500px;">6-Mar-2026 9:30am</div>
<div class="hd" style="left:9px;top:23px;font-size:7.800px;font-family:'DejaVu Sans',sans-serif;color:#444;"><span style="display:inline-block;width:6px;height:1.200px;background:#000;vertical-align:middle;margin-right:3.200px;"></span>$TYX (Monthly) 47.61</div>
<div class="hd" style="right:29.500px;top:3.800px;font-size:7.600px;color:#777;">&#169;StockCharts.com</div>
<div class="hd" id="ohlc" style="right:29.800px;top:13.600px;font-size:7.550px;word-spacing:0.700px;"><b>Open</b> 46.59 <b style="margin-left:1.100px">High</b> 47.68 <b style="margin-left:1.100px">Low</b> 46.67 <b style="margin-left:1.100px">Last</b> 47.61 <b style="margin-left:1.100px">Chg</b> +1.28 (+2.76%) <span style="display:inline-block;width:0;height:0;border-left:3px solid transparent;border-right:3px solid transparent;border-bottom:3.500px solid #0a5c0a;vertical-align:1px;"></span></div>
</div></body></html>
